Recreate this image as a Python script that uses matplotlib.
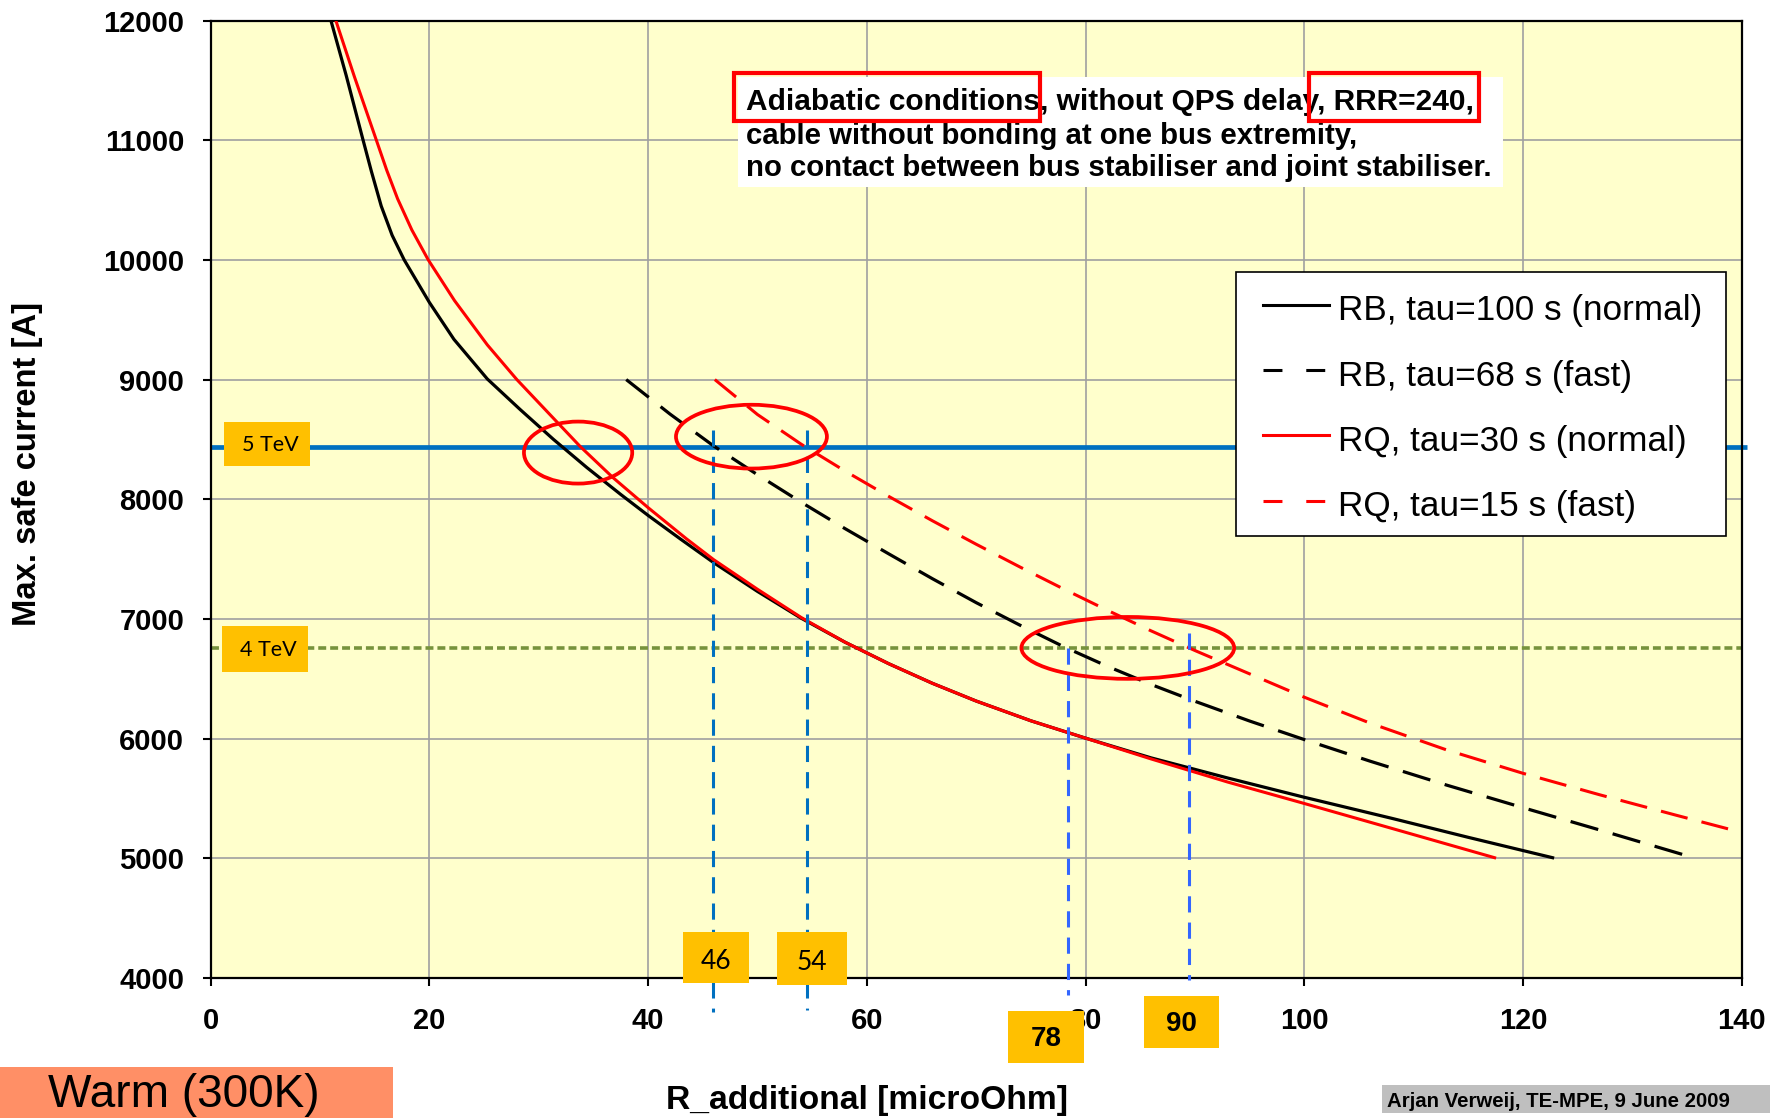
import matplotlib
matplotlib.use("Agg")
import matplotlib.pyplot as plt
from matplotlib.patches import Ellipse, Rectangle
from matplotlib.lines import Line2D
from matplotlib.transforms import Affine2D

# ------------------------------------------------------------------ data
# RB, tau=100 s (normal)
rb_normal_r = [11.0, 12.4, 13.9, 14.7, 15.6, 16.6, 17.7, 20.0, 22.25, 25.3, 28.3,
               31.35, 34.4, 37.5, 40.0, 43.0, 46.0, 50.0, 54.0, 58.0, 62.0, 66.0,
               70.0, 75.0, 80.0, 86.0, 93.0, 100.0, 108.0, 115.0, 122.7]
rb_normal_i = [12000, 11540, 11015, 10740, 10450, 10205, 10000, 9645, 9336, 9005, 8750,
               8500, 8265, 8040, 7865, 7665, 7470, 7230, 7006, 6806, 6626, 6462,
               6314, 6149, 6004, 5839, 5671, 5510, 5334, 5175, 5005]
# RB, tau=68 s (fast)
rb_fast_r = [38.0, 42.0, 46.0, 50.0, 54.0, 58.0, 62.0, 66.0, 70.0, 74.0, 78.0,
             82.0, 86.0, 90.0, 95.0, 100.0, 106.0, 113.0, 120.0, 127.0, 135.7]
rb_fast_i = [9000, 8712, 8445, 8205, 7975, 7755, 7544, 7336, 7136, 6948, 6768,
             6604, 6452, 6312, 6147, 5992, 5812, 5612, 5423, 5237, 5002]
# RQ, tau=30 s (normal)
rq_normal_r = [11.45, 13.15, 15.1, 16.1, 17.1, 18.4, 19.9, 22.3, 25.3, 28.0, 31.0,
               33.8, 36.8, 40.0, 43.5, 46.0, 50.0, 54.0, 58.0, 62.0, 66.0, 70.0,
               75.0, 80.0, 86.0, 93.0, 100.0, 108.0, 117.4]
rq_normal_i = [12000, 11530, 11015, 10750, 10510, 10250, 10000, 9660, 9290, 9000, 8710,
               8440, 8180, 7930, 7670, 7495, 7248, 7012, 6806, 6626, 6462, 6314,
               6149, 6004, 5830, 5637, 5458, 5250, 5005]
# RQ, tau=15 s (fast)
rq_fast_r = [46.1, 50.0, 54.0, 58.0, 62.0, 66.0, 70.0, 74.0, 78.0, 82.0, 86.0,
             90.0, 95.0, 100.0, 106.0, 113.0, 120.0, 127.0, 134.0, 140.0]
rq_fast_i = [9000, 8708, 8460, 8236, 8024, 7820, 7624, 7434, 7250, 7072, 6900,
             6736, 6541, 6346, 6130, 5906, 5710, 5531, 5360, 5216]

series_labels = ["RB, tau=100 s (normal)", "RB, tau=68 s (fast)",
                 "RQ, tau=30 s (normal)", "RQ, tau=15 s (fast)"]

level_labels = ["5 TeV", "4 TeV"]
level_current = [8435, 6760]

marker_labels = ["46", "54", "78", "90"]
marker_r = [45.9, 54.5, 78.4, 89.5]
marker_top = [8575, 8575, 6760, 6880]
marker_bottom = [3716, 3730, 3858, 3983]

x_ticks = [0, 20, 40, 60, 80, 100, 120, 140]
y_ticks = [4000, 5000, 6000, 7000, 8000, 9000, 10000, 11000, 12000]

note_lines = ["Adiabatic conditions, without QPS delay, RRR=240,",
              "cable without bonding at one bus extremity,",
              "no contact between bus stabiliser and joint stabiliser."]
x_title = "R_additional [microOhm]"
y_title = "Max. safe current [A]"
corner_text = "Warm (300K)"
credit_text = "Arjan Verweij, TE-MPE, 9 June 2009"

# ------------------------------------------------------------------ figure
W, H = 1785, 1118
plt.rcParams["font.family"] = ["Liberation Sans", "DejaVu Sans"]
fig = plt.figure(figsize=(W / 100, H / 100), dpi=100)
fig.patch.set_facecolor("white")
PX = Affine2D().scale(1.0 / W, -1.0 / H).translate(0, 1) + fig.transFigure

L, R, T, B = 210.6, 1741.8, 20.5, 978.0
ax = fig.add_axes([L / W, 1 - B / H, (R - L) / W, (B - T) / H])
ax.set_facecolor("#FFFFCC")
ax.set_xlim(0, 140)
ax.set_ylim(4000, 12000)
ax.set_xticks(x_ticks)
ax.set_yticks(y_ticks)
ax.grid(True, color="#A0A0A0", lw=1.2)
ax.set_axisbelow(True)
for s in ax.spines.values():
    s.set_color("black")
    s.set_linewidth(1.6)
ax.tick_params(direction="out", length=6, width=1.5, labelsize=21)
ax.tick_params(axis="x", pad=15)
ax.tick_params(axis="y", pad=13)
for lab in ax.get_xticklabels() + ax.get_yticklabels():
    lab.set_fontweight("bold")

# reference levels
ax.plot([0, 140.5], [level_current[0]] * 2, color="#0070C0", lw=3.4,
        clip_on=False, zorder=2, solid_capstyle="butt")
ax.plot([0, 140], [level_current[1]] * 2, color="#77933C", lw=2.6,
        ls=(0, (2.2, 1.1)), zorder=2)

# curves
dash = (0, (9, 4.7))
ax.plot(rb_normal_r, rb_normal_i, color="black", lw=2.3, zorder=3,
        solid_joinstyle="round")
ax.plot(rb_fast_r, rb_fast_i, color="black", lw=2.3, ls=dash, zorder=3)
ax.plot(rq_normal_r, rq_normal_i, color="#FF0000", lw=2.2, zorder=3,
        solid_joinstyle="round")
ax.plot(rq_fast_r, rq_fast_i, color="#FF0000", lw=2.2, ls=dash, zorder=3)

# vertical markers
vcols = ["#0070C0", "#0070C0", "#3366FF", "#3366FF"]
for r, t, b, c in zip(marker_r, marker_top, marker_bottom, vcols):
    ax.plot([r, r], [t, b], color=c, lw=2.2, ls=(0, (5.3, 3.3)),
            clip_on=False, zorder=4)

# red ellipses
for (cx, cy, w, h) in [(33.6, 8390, 9.9, 518), (49.45, 8523, 13.8, 533),
                       (83.86, 6758, 19.45, 517)]:
    ax.add_patch(Ellipse((cx, cy), w, h, fill=False, ec="#FF0000", lw=2.7,
                         clip_on=False, zorder=5))

renderer = fig.canvas.get_renderer()


def fit(t, target, dim="w"):
    bb = t.get_window_extent(renderer)
    cur = bb.width if dim == "w" else bb.height
    t.set_fontsize(t.get_fontsize() * target / cur)


def rect(x0, y0, x1, y1, **kw):
    p = Rectangle((x0, y0), x1 - x0, y1 - y0, transform=PX, **kw)
    fig.add_artist(p)
    return p


# level label boxes
for lab, (x0, y0, x1, y1) in zip(level_labels, [(224, 422, 310, 466), (222, 626, 308, 672)]):
    rect(x0, y0, x1, y1, fc="#FFC000", ec="none", zorder=6)
    fig.text((x0 + x1) / 2 + 3, (y0 + y1) / 2 + 1, lab, transform=PX, ha="center",
             va="center", fontsize=15.5, family=["Lato", "DejaVu Sans"], zorder=7)

# marker label boxes
mboxes = [(683, 932, 749, 983), (777, 932, 847, 985), (1008, 1011, 1084, 1063),
          (1144, 996, 1219, 1048)]
for i, (lab, (x0, y0, x1, y1)) in enumerate(zip(marker_labels, mboxes)):
    rect(x0, y0, x1, y1, fc="#FFC000", ec="none", zorder=6)
    if i < 2:
        fig.text((x0 + x1) / 2, (y0 + y1) / 2 + 4, lab, transform=PX, ha="center",
                 va="center", fontsize=19, family=["Lato", "DejaVu Sans"], zorder=7)
    else:
        fig.text((x0 + x1) / 2, (y0 + y1) / 2 + 2, lab, transform=PX, ha="center",
                 va="center", fontsize=20, fontweight="bold", zorder=7)

# note box
rect(738, 77, 1503, 187, fc="white", ec="none", zorder=6)
rect(734, 73, 1040, 121, fill=False, ec="#FF0000", lw=3.0, zorder=8)
rect(1309, 73, 1479, 121, fill=False, ec="#FF0000", lw=3.0, zorder=8)
for txt, yb, wt in zip(note_lines, [110, 143.5, 176], [727, 612, 747]):
    t = fig.text(745.5, yb, txt, transform=PX, ha="left", va="baseline",
                 fontsize=18, fontweight="bold", zorder=7)
    fit(t, wt)

# legend
rect(1236, 272, 1726, 536, fc="white", ec="black", lw=1.2, zorder=6)
styles = [("black", "-"), ("black", (0, (6.2, 7.8))), ("#FF0000", "-"),
          ("#FF0000", (0, (6.2, 7.8)))]
baselines = [320.4, 385.6, 450.8, 516.0]
leg_texts = []
for lab, (c, ls), yb in zip(series_labels, styles, baselines):
    fig.add_artist(Line2D([1263, 1328.5], [yb - 15.5, yb - 15.5], transform=PX,
                          color=c, lw=2.2, ls=ls, zorder=7))
    leg_texts.append(fig.text(1337.5, yb, lab, transform=PX, ha="left", va="baseline",
                              fontsize=24, zorder=7))
fit(leg_texts[0], 364.6)
for t in leg_texts[1:]:
    t.set_fontsize(leg_texts[0].get_fontsize())

# axis titles
xt = fig.text(867, 1100, x_title, transform=PX, ha="center", va="center",
              fontsize=23, fontweight="bold")
fit(xt, 402)
yt = fig.text(28, 464, y_title, transform=PX, ha="center", va="center",
              rotation=90, fontsize=23, fontweight="bold")
fit(yt, 324, "h")

# bottom boxes
rect(0, 1067, 393, 1130, fc="#FF8F66", ec="none", zorder=6)
wt_ = fig.text(48, 1107, corner_text, transform=PX, ha="left", va="baseline",
               fontsize=32, zorder=7)
fit(wt_, 272)
rect(1382, 1085, 1770, 1113, fc="#BFBFBF", ec="none", zorder=6)
ct = fig.text(1387, 1107, credit_text, transform=PX, ha="left", va="baseline",
              fontsize=12, fontweight="bold", zorder=7)
fit(ct, 342)

fig.savefig("out.png", dpi=100, facecolor="white")
